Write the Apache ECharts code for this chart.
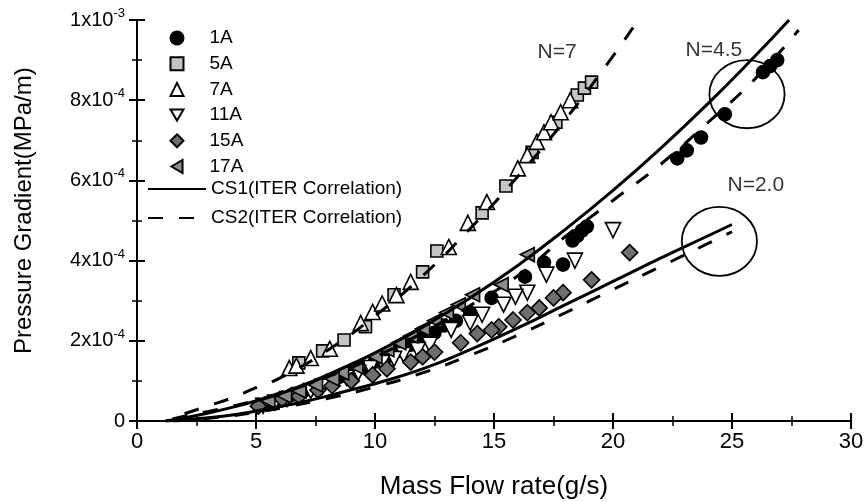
<!DOCTYPE html>
<html><head><meta charset="utf-8">
<script src="https://cdn.jsdelivr.net/npm/echarts@6/dist/echarts.min.js"></script>
<style>html,body{margin:0;padding:0;background:#fff}#c{width:866px;height:502px}</style>
</head><body><div id="c"></div>
<script>
// y values in units of 1e-4 MPa/m, x in g/s
const s1A = [[26.9,9.0],[26.6,8.85],[26.3,8.7],[24.7,7.65],[23.7,7.07],[23.1,6.75],[22.7,6.55],
  [18.9,4.85],[18.7,4.75],[18.5,4.62],[18.3,4.5],[17.9,3.9],[17.1,3.95],[16.3,3.6],[14.9,3.07],[14.0,2.7],
  [13.4,2.5],[12.9,2.38],[12.5,2.2],[12.0,2.08],[11.5,1.9],[11.0,1.75],[10.5,1.6],[10.0,1.48],[9.5,1.35],
  [9.0,1.22],[8.5,1.1],[8.0,0.98],[7.5,0.85],[7.0,0.75],[6.5,0.65],[6.0,0.55],[5.5,0.45]];
const s5A = [[6.8,1.45],[7.8,1.75],[8.7,2.02],[9.6,2.35],[10.8,3.15],[12.0,3.72],[12.6,4.24],[14.5,5.19],
  [15.5,5.86],[16.6,6.7],[17.6,7.45],[18.5,8.13],[18.8,8.3],[19.1,8.45]];
const s7A = [[6.4,1.32],[6.7,1.38],[7.3,1.57],[8.1,1.8],[9.4,2.44],[9.9,2.72],[10.3,2.93],[10.9,3.14],
  [11.5,3.47],[13.1,4.34],[13.9,4.94],[14.7,5.46],[16.0,6.3],[16.4,6.63],[16.8,6.96],[17.1,7.2],[17.4,7.45],[17.8,7.7],[18.2,8.0]];
const s11A = [[20.0,4.76],[18.4,4.0],[17.2,3.65],[16.4,3.2],[15.9,3.1],[15.4,2.9],[14.5,2.65],[14.0,2.45],
  [13.2,2.27],[12.3,1.9],[11.8,1.77],[11.2,1.65],[10.8,1.55],[10.3,1.45],[9.8,1.32],[9.3,1.2],[8.8,1.08],
  [8.3,0.98],[7.8,0.86],[7.3,0.75],[6.8,0.65],[6.3,0.55],[5.8,0.46],[5.3,0.38]];
const s15A = [[20.7,4.2],[19.1,3.52],[17.9,3.2],[17.5,3.07],[16.9,2.82],[16.4,2.7],[15.8,2.52],[15.2,2.35],
  [14.9,2.27],[14.3,2.18],[13.6,1.95],[12.5,1.72],[12.0,1.6],[11.5,1.47],[10.5,1.3],[9.9,1.15],[9.0,1.0],
  [8.2,0.88],[7.6,0.77],[6.8,0.62],[6.1,0.55],[5.1,0.37]];
const s17A = [[16.4,4.15],[15.3,3.4],[14.1,3.15],[13.5,2.9],[13.0,2.7],[12.5,2.5],[12.0,2.3],[11.5,2.12],
  [11.0,1.95],[10.5,1.78],[10.0,1.6],[9.2,1.35],[8.6,1.2],[8.2,1.05],[7.5,0.9],[6.8,0.75],[6.2,0.62],[5.5,0.5]];

const cs2N7 = [[2.0,0.18],[3.0,0.38],[4.0,0.58],[5.0,0.83],[6.0,1.07],[8.0,1.76],[10.0,2.62],[12.0,3.62],
  [14.0,4.8],[16.0,6.1],[18.0,7.52],[20.0,9.1],[21.0,9.95]];
const cs1N45 = [[1.2,0],[2,0.08],[3,0.2],[4,0.34],[5,0.5],[6,0.68],[7,0.9],[8,1.15],[9,1.42],[10,1.7],
  [12,2.34],[14,3.07],[16,3.88],[18,4.78],[20,5.75],[22,6.8],[24,7.92],[26,9.12],[27.4,10.0]];
const cs2N45 = [[1.5,0.05],[2,0.12],[3,0.24],[4,0.37],[5,0.52],[6,0.69],[8,1.1],[10,1.6],[12,2.2],[14,2.88],
  [16,3.62],[18,4.6],[20,5.5],[22,6.4],[24,7.45],[26,8.55],[27.8,9.75]];
const cs1N20 = [[1.2,0],[2,0.03],[3,0.08],[4,0.15],[5,0.25],[6,0.36],[7,0.48],[8,0.62],[9,0.78],[10,0.93],
  [12,1.3],[14,1.78],[16,2.32],[18,2.9],[20,3.48],[22,4.06],[24,4.62],[25,4.9]];
const cs2N20 = [[1.5,0],[2,0.02],[3,0.07],[4,0.13],[5,0.22],[6,0.32],[8,0.56],[10,0.85],[12,1.2],[14,1.64],
  [16,2.14],[18,2.7],[20,3.28],[22,3.85],[24,4.43],[25,4.72]];

const yTickBase = ['0','2x10','4x10','6x10','8x10','1x10'];
const yTickExp  = ['','-4','-4','-4','-4','-3'];
const noteLabels = [[17.65,9.2,'N=7'],[24.24,9.25,'N=4.5'],[26.0,5.89,'N=2.0']];
const noteCircles = [[25.63,8.15,1.58,0.85],[24.47,4.48,1.58,0.86]];
const pointNames = ['1A','5A','7A','11A','15A','17A'];
const lineNames = ['CS1(ITER Correlation)','CS2(ITER Correlation)'];

const FONT = 'Liberation Sans';
const DOWN_TRI = 'path://M0,0 L20,0 L10,17 Z';
const LEFT_TRI = 'path://M17,0 L17,20 L0,10 Z';
const chart = echarts.init(document.getElementById('c'), null, {renderer:'canvas'});

const axisCommon = {
  axisLine:{show:true, lineStyle:{color:'#000', width:2}},
  axisTick:{show:true, inside:true, length:8, lineStyle:{color:'#000', width:2}},
  minorTick:{show:true, splitNumber:2, length:5, lineStyle:{color:'#000', width:1.5}},
  splitLine:{show:false}
};

function scatter(name, data, symbol, size, color, rot){
  return {name, type:'scatter', data, symbol, symbolSize:size, symbolRotate:rot||0,
    itemStyle:{color, borderColor:'#000', borderWidth:1.6, opacity:1}, z:3};
}
function line(name, data, dashed){
  return {name, type:'line', data, showSymbol:false, symbol:'none', smooth:true, z:5,
    itemStyle:{color:'#000'},
    lineStyle:{color:'#000', width:3, type: dashed ? [15,16] : 'solid'}};
}

const option = {
  animation:false,
  backgroundColor:'#fff',
  grid:{left:137, right:15, top:20, bottom:81, containLabel:false, outerBoundsMode:'none'},
  legend:[{
    left:169.5, top:28.5, orient:'vertical', itemWidth:13, itemHeight:13, itemGap:6.7, padding:0,
    symbolRotate:0,
    textStyle:{fontFamily:FONT, fontSize:19, color:'#000', padding:[0,0,0,21]},
    data:[{name:'1A'},{name:'5A', itemHeight:11},{name:'7A'},{name:'11A', icon:DOWN_TRI},{name:'15A'},{name:'17A', icon:LEFT_TRI}]
  },{
    left:147, top:179.5, orient:'vertical', itemWidth:58, itemHeight:13, itemGap:10, padding:0,
    itemStyle:{opacity:0},
    textStyle:{fontFamily:FONT, fontSize:19, color:'#000'},
    data:lineNames
  }],
  xAxis:[
    Object.assign({type:'value', min:0, max:30, interval:5, position:'bottom',
      axisLabel:{fontFamily:FONT, fontSize:22, color:'#000', margin:10},
      name:'Mass Flow rate(g/s)', nameLocation:'middle', nameGap:53,
      nameTextStyle:{fontFamily:FONT, fontSize:26, color:'#000'}}, axisCommon),
    Object.assign({type:'value', min:0, max:30, interval:5, position:'top', axisLabel:{show:false}}, axisCommon)
  ],
  yAxis:[
    Object.assign({type:'value', min:0, max:10, interval:2, position:'left',
      axisLabel:{fontFamily:FONT, color:'#000', margin:12,
        formatter:(v)=>{const i=Math.round(v/2); return yTickExp[i] ? '{b|'+yTickBase[i]+'}{s|'+yTickExp[i]+'}' : '{b|'+yTickBase[i]+'}';},
        rich:{b:{fontFamily:FONT, fontSize:20, color:'#000', lineHeight:26},
              s:{fontFamily:FONT, fontSize:13, color:'#000', verticalAlign:'top', lineHeight:12}}}}, axisCommon),
    Object.assign({type:'value', min:0, max:10, interval:2, position:'right', axisLabel:{show:false}}, axisCommon)
  ],
  graphic:[{type:'text', x:12, y:354, rotation:Math.PI/2,
    style:{text:'Pressure Gradient(MPa/m)', fontFamily:FONT, fontSize:24, fill:'#000'}}],
  series:[
    scatter('1A', s1A, 'circle', 13, '#000'),
    scatter('5A', s5A, 'rect', 12, '#c4c4c4'),
    scatter('7A', s7A, 'triangle', 15, '#fff'),
    scatter('11A', s11A, 'triangle', 15, '#fff', 180),
    scatter('15A', s15A, 'diamond', 16, '#6e6e6e'),
    scatter('17A', s17A, 'triangle', 14, '#8c8c8c', 90),
    line(lineNames[0], cs1N45, false),
    line(lineNames[0], cs1N20, false),
    line(lineNames[1], cs2N7, true),
    line(lineNames[1], cs2N45, true),
    line(lineNames[1], cs2N20, true),
    {name:'notes', type:'scatter', data:noteLabels, symbolSize:0, z:6,
      label:{show:true, position:'inside', formatter:(p)=>p.data[2], fontFamily:FONT, fontSize:21, color:'#000'}},
    {name:'rings', type:'custom', data:noteCircles, z:6,
      renderItem:(params, api)=>{
        const c = api.coord([api.value(0), api.value(1)]);
        const s = api.size([api.value(2), api.value(3)]);
        return {type:'ellipse', shape:{cx:c[0], cy:c[1], rx:s[0], ry:s[1]},
          style:{fill:'none', stroke:'#000', lineWidth:1.8}};
      }}
  ]
};
chart.setOption(option);
</script></body></html>
